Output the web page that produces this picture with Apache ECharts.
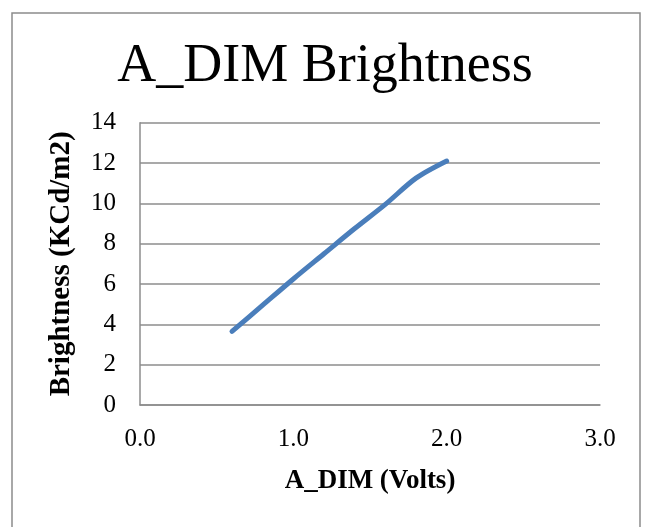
<!DOCTYPE html>
<html><head><meta charset="utf-8">
<script src="https://cdn.jsdelivr.net/npm/echarts@6/dist/echarts.min.js"></script>
<style>html,body{margin:0;padding:0;background:#fff}#c{width:650px;height:527px}</style>
</head><body><div id="c"></div>
<script>
var titleText = "A_DIM Brightness";
var xName = "A_DIM (Volts)";
var yName = "Brightness (KCd/m2)";
var volts = [0.6, 0.8, 1.0, 1.2, 1.4, 1.6, 1.8, 2.0];
var brightness = [3.65, 4.95, 6.25, 7.5, 8.75, 9.95, 11.25, 12.1];
var F = "'Liberation Serif','Times New Roman',serif";
var chart = echarts.init(document.getElementById('c'));
chart.setOption({
  animation: false,
  title: { text: titleText, left: 'center', top: 35, textStyle: { fontFamily: F, fontSize: 54, fontWeight: 'normal', color: '#000' } },
  graphic: [{ type: 'rect', shape: { x: 12, y: 13, width: 628, height: 530 }, style: { fill: 'none', stroke: '#8c8c8c', lineWidth: 1.5 }, silent: true }],
  grid: { left: 140, right: 50, top: 122.7, bottom: 122, containLabel: false },
  xAxis: {
    type: 'value', min: 0, max: 3, interval: 1,
    name: xName, nameLocation: 'middle', nameGap: 63,
    nameTextStyle: { fontFamily: F, fontSize: 27, fontWeight: 'bold', color: '#000' },
    axisLine: { show: true, lineStyle: { color: '#8c8c8c', width: 1.5 } },
    axisTick: { show: false },
    axisLabel: { fontFamily: F, fontSize: 25, color: '#000', margin: 22, formatter: function (v) { return v.toFixed(1); } },
    splitLine: { show: false }
  },
  yAxis: {
    type: 'value', min: 0, max: 14, interval: 2,
    name: yName, nameLocation: 'middle', nameGap: 64,
    nameTextStyle: { fontFamily: F, fontSize: 29, fontWeight: 'bold', color: '#000' },
    axisLine: { show: true, lineStyle: { color: '#8c8c8c', width: 1.5 } },
    axisTick: { show: false },
    axisLabel: { fontFamily: F, fontSize: 25, color: '#000', margin: 24 },
    splitLine: { show: true, lineStyle: { color: '#8c8c8c', width: 1.5 } }
  },
  series: [{
    type: 'line', data: volts.map(function (v, i) { return [v, brightness[i]]; }),
    smooth: 0.3, showSymbol: false, symbol: 'none',
    lineStyle: { color: '#4a7ebb', width: 5, cap: 'round' }
  }]
});
</script></body></html>
